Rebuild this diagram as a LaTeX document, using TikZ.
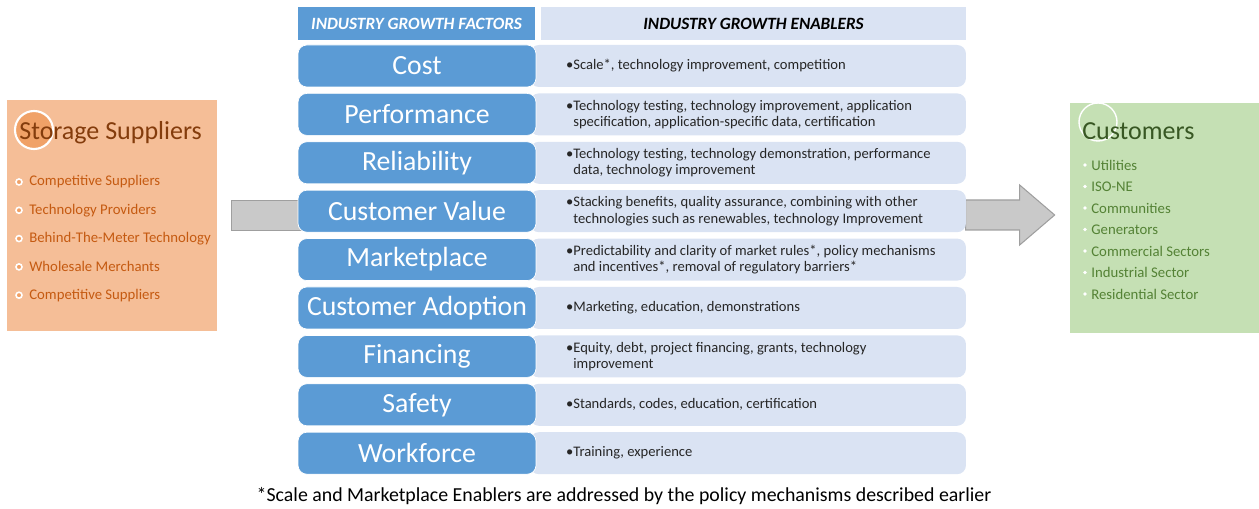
\documentclass[tikz,border=0pt]{standalone}
\usepackage{fontspec}
\setmainfont{Carlito}
\usetikzlibrary{calc}
\definecolor{fblue}{HTML}{5B9BD5}
\definecolor{elight}{HTML}{DAE3F3}
\definecolor{sorange}{HTML}{F5BE97}
\definecolor{sdark}{HTML}{F0A167}
\definecolor{stext}{HTML}{C55A11}
\definecolor{stitle}{HTML}{843C0C}
\definecolor{cgreen}{HTML}{C5E0B4}
\definecolor{ctext}{HTML}{548235}
\definecolor{ctitle}{HTML}{385723}
\definecolor{agray}{HTML}{C9C9C9}
\begin{document}
\begin{tikzpicture}[x=0.02cm,y=-0.02cm,
  fbox/.style={fill=fblue, draw=white, rounded corners=5pt, minimum width=4.76cm, minimum height=0.84cm, text=white, font=\fontsize{15.8}{17}\selectfont},
  ebox/.style={fill=elight, rounded corners=5pt, minimum width=8.72cm, minimum height=0.84cm},
  etext/.style={anchor=west, align=left, inner sep=0pt, text=black!85, font=\fontsize{8.3}{9.2}\selectfont},
  garrow/.style={fill=agray, draw=gray!75, line width=0.6pt}]
\useasboundingbox (0,0) rectangle (1259,509);
\node[fill=sorange, minimum width=4.2cm, minimum height=4.62cm] (supp) at (112,215.5) {};
\node[fill=cgreen, minimum width=3.8cm, minimum height=4.6cm] (cust) at (1165,218) {};
\draw[garrow] ($(supp.east)+(14,-15)$) rectangle ($(supp.east)+(86,15)$);
\draw[garrow] ($(cust.west)+(-15,-3)$) coordinate (tip) -- ++(-35,-30) -- ++(0,15) -- ++(-54,0) -- ++(0,30) -- ++(54,0) -- ++(0,15) -- cycle;
\node[fill=fblue, minimum width=4.74cm, minimum height=0.66cm, text=white, font=\fontsize{9.8}{11}\selectfont\bfseries\itshape] (hf) at (416.5,23.5) {INDUSTRY GROWTH FACTORS};
\node[fill=elight, minimum width=8.5cm, minimum height=0.66cm, font=\fontsize{9.8}{11}\selectfont\bfseries\itshape] (he) at (753.5,23.5) {INDUSTRY GROWTH ENABLERS};
\foreach \i/\f/\e in {1/Cost/{Scale*, technology improvement, competition},
  2/Performance/{Technology testing, technology improvement, application\\ specification, application-specific data, certification},
  3/Reliability/{Technology testing, technology demonstration, performance\\ data, technology improvement},
  4/Customer Value/{Stacking benefits, quality assurance, combining with other\\ technologies such as renewables, technology Improvement},
  5/Marketplace/{Predictability and clarity of market rules*, policy mechanisms\\ and incentives*, removal of regulatory barriers*},
  6/Customer Adoption/{Marketing, education, demonstrations},
  7/Financing/{Equity, debt, project financing, grants, technology\\ improvement},
  8/Safety/{Standards, codes, education, certification},
  9/Workforce/{Training, experience}} {
  \pgfmathsetmacro\y{66+48.4*(\i-1)}
  \node[ebox] (e\i) at (748,\y) {};
  \node[fbox] (f\i) at (417,\y) {\f};
  \node[etext] (t\i) at (573,\y) {\llap{\textbullet}\e};
}
\fill[sdark] (34,130) circle (19);
\draw[white, line width=1.2pt] (34,130) circle (19);
\node[anchor=west, inner sep=0pt, text=stitle, font=\fontsize{14.8}{16}\selectfont] (stitle) at (19,133) {Storage Suppliers};
\foreach \t [count=\k] in {Competitive Suppliers, Technology Providers, Behind-The-Meter Technology, Wholesale Merchants, Competitive Suppliers} {
  \pgfmathsetmacro\y{182+28.3*(\k-1)}
  \filldraw[fill=sdark, draw=white, line width=0.9pt] (19,\y) circle (3);
  \node[anchor=west, inner sep=0pt, text=stext, font=\fontsize{8.4}{10}\selectfont] (s\k) at (29,\y) {\t};
}
\draw[white, line width=0.8pt] (1098,122) circle (19);
\node[anchor=west, inner sep=0pt, text=ctitle, font=\fontsize{14.8}{16}\selectfont] (ctitle) at (1082,131) {Customers};
\foreach \t [count=\k] in {Utilities, ISO-NE, Communities, Generators, Commercial Sectors, Industrial Sector, Residential Sector} {
  \pgfmathsetmacro\y{165+21.5*(\k-1)}
  \fill[white] (1085,\y) circle (1.8);
  \node[anchor=west, inner sep=0pt, text=ctext, font=\fontsize{8.4}{10}\selectfont] (c\k) at (1091,\y) {\t};
}
\node[font=\fontsize{11.3}{13}\selectfont] (note) at (624,496) {*Scale and Marketplace Enablers are addressed by the policy mechanisms described earlier};
\end{tikzpicture}
\end{document}
